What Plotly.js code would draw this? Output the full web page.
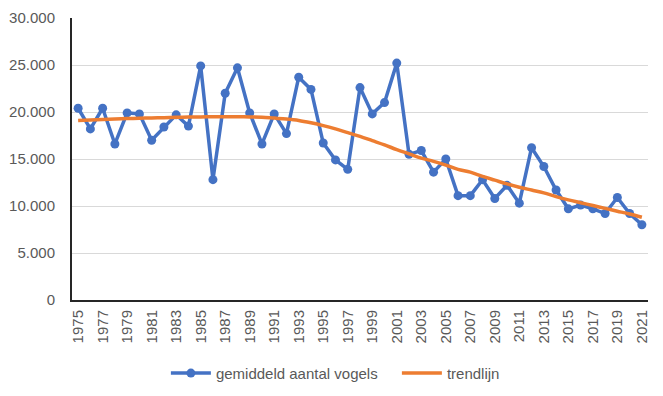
<!DOCTYPE html>
<html><head><meta charset="utf-8">
<script src="https://cdn.plot.ly/plotly-3.0.1.min.js"></script>
<style>body{margin:0;background:#fff}#c{width:663px;height:396px}</style>
</head><body><div id="c"></div>
<script>
const years = [1975,1976,1977,1978,1979,1980,1981,1982,1983,1984,1985,1986,1987,1988,1989,1990,1991,1992,1993,1994,1995,1996,1997,1998,1999,2000,2001,2002,2003,2004,2005,2006,2007,2008,2009,2010,2011,2012,2013,2014,2015,2016,2017,2018,2019,2020,2021];
const birds = [20400,18200,20400,16600,19900,19800,17000,18400,19700,18500,24900,12800,22000,24700,19900,16600,19800,17700,23700,22400,16700,14900,13900,22600,19800,21000,25200,15500,15900,13600,15000,11100,11100,12800,10800,12200,10300,16200,14200,11700,9700,10100,9700,9200,10900,9200,8000];
const trend = [19100,19150,19200,19250,19300,19330,19370,19400,19430,19460,19480,19500,19500,19500,19480,19450,19350,19250,19100,18850,18550,18200,17800,17400,16950,16500,16000,15550,15100,14750,14350,13900,13600,13150,12750,12350,12000,11700,11400,11000,10650,10350,10050,9750,9450,9150,8800];
const seriesNames = ['gemiddeld aantal vogels','trendlijn'];

const font = {family:'"Liberation Sans", Roboto, sans-serif', size:15, color:'#595959'};
Plotly.newPlot('c', [
  {x:years, y:birds, name:seriesNames[0], type:'scatter', mode:'lines+markers',
   line:{color:'#4472C4', width:3.5}, marker:{color:'#4472C4', size:9}},
  {x:years, y:trend, name:seriesNames[1], type:'scatter', mode:'lines',
   line:{color:'#ED7D31', width:3.5, shape:'spline'}}
], {
  width:663, height:396,
  margin:{l:72, r:15, t:18, b:96, autoexpand:false},
  paper_bgcolor:'#fff', plot_bgcolor:'#fff',
  separators:',.',
  font:font,
  showlegend:true,
  legend:{orientation:'h', x:0.163, xanchor:'left', y:-0.26, yanchor:'middle', font:font,
    itemwidth:40, entrywidth:176, entrywidthmode:'pixels', tracegroupgap:0},
  xaxis:{range:[1974.5,2021.5], tickmode:'linear', tick0:1975, dtick:2, tickangle:-90,
    showgrid:false, zeroline:false, showline:true, linecolor:'#262626', linewidth:2,
    ticks:'', tickfont:font, ticklabelstandoff:2},
  yaxis:{range:[0,30000], dtick:5000, tickformat:',d', showgrid:true, gridcolor:'#d9d9d9', gridwidth:1,
    zeroline:false, showline:true, linecolor:'#262626', linewidth:2, ticks:'', tickfont:font, ticklabelstandoff:12}
}, {displayModeBar:false, staticPlot:true});
</script>
</body></html>
